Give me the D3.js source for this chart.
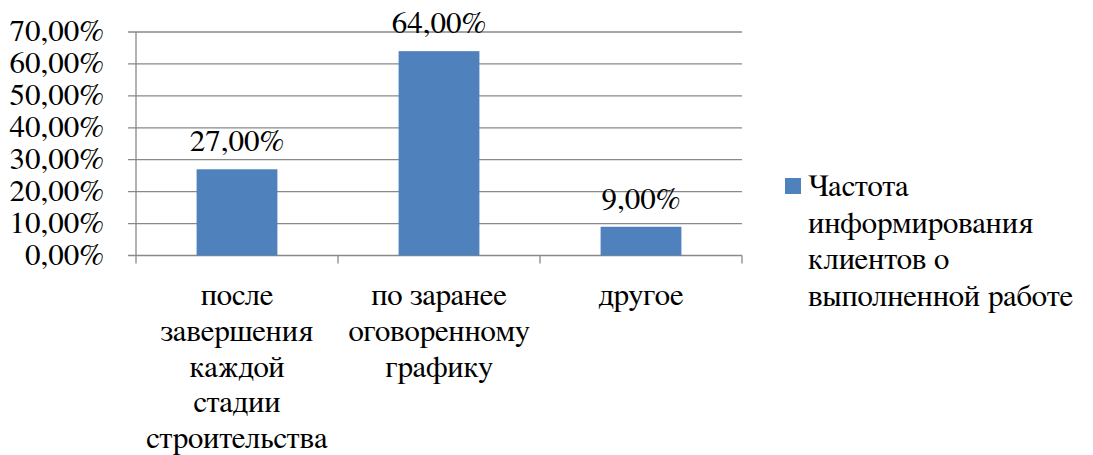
<!DOCTYPE html>
<html>
<head>
<meta charset="utf-8">
<script src="https://cdnjs.cloudflare.com/ajax/libs/d3/7.8.5/d3.min.js"></script>
</head>
<body style="margin:0">
<svg id="chart" width="1093" height="455"></svg>
<script>
// Categories (one label per line) and values in percent
const categories = [
  ["после", "завершения", "каждой", "стадии", "строительства"],
  ["по заранее", "оговоренному", "графику"],
  ["другое"]
];
const values = [27, 64, 9];
const yTicks = [0, 10, 20, 30, 40, 50, 60, 70];
const seriesName = ["Частота", "информирования", "клиентов о", "выполненной работе"];

const barColor = "#4F81BD";
const gridColor = "#898989";
const fontSize = 31;
const fontFamily = "'FreeSerif', 'Liberation Serif', 'Times New Roman', serif";

const svg = d3.select("#chart");
const plot = { left: 136, right: 742, top: 32, bottom: 255.5 };

const keys = categories.map((c, i) => i);
const x = d3.scaleBand().domain(keys).range([plot.left, plot.right])
  .paddingInner(0.6).paddingOuter(0.3);
const xOuter = d3.scaleBand().domain(keys).range([plot.left, plot.right]);
const y = d3.scaleLinear().domain([0, 70]).range([plot.bottom, plot.top]);

const fmt = v => d3.format(".2f")(v).replace(".", ",") + "%";

// Horizontal gridlines with short tick marks to the left of the axis
svg.selectAll("line.grid").data(yTicks).join("line").attr("class", "grid")
  .attr("x1", plot.left - 8).attr("x2", plot.right)
  .attr("y1", d => y(d)).attr("y2", d => y(d))
  .attr("stroke", gridColor).attr("stroke-width", 1.3);

// Vertical value axis
svg.append("line")
  .attr("x1", plot.left).attr("x2", plot.left)
  .attr("y1", y(70)).attr("y2", plot.bottom + 8)
  .attr("stroke", gridColor).attr("stroke-width", 1.3);

// Category separators below the baseline
svg.selectAll("line.sep").data(keys).join("line").attr("class", "sep")
  .attr("x1", d => xOuter(d) + xOuter.bandwidth())
  .attr("x2", d => xOuter(d) + xOuter.bandwidth())
  .attr("y1", plot.bottom).attr("y2", plot.bottom + 8)
  .attr("stroke", gridColor).attr("stroke-width", 1.3);

// Bars
svg.selectAll("rect.bar").data(values).join("rect").attr("class", "bar")
  .attr("x", (d, i) => x(i)).attr("width", x.bandwidth())
  .attr("y", d => y(d)).attr("height", d => plot.bottom - y(d))
  .attr("fill", barColor);

// Y tick labels
svg.selectAll("text.ytick").data(yTicks).join("text").attr("class", "ytick")
  .attr("x", 104).attr("y", d => y(d)).attr("dy", "0.3em")
  .attr("font-size", fontSize)
  .style("font-family", fontFamily)
  .attr("text-anchor", "end")
  .text(fmt);

// Value labels above bars
svg.selectAll("text.value").data(values).join("text").attr("class", "value")
  .attr("x", (d, i) => x(i) + x.bandwidth() / 2)
  .attr("y", d => y(d) - 18)
  .attr("font-size", fontSize)
  .style("font-family", fontFamily)
  .attr("text-anchor", "middle")
  .text(fmt);

// Multi-line category labels, one text element per line
const lineH = 35.8;
const catLines = categories.flatMap((lines, i) => lines.map((l, j) => ({ i, j, l })));
svg.selectAll("text.cat").data(catLines).join("text").attr("class", "cat")
  .attr("x", d => x(d.i) + x.bandwidth() / 2)
  .attr("y", d => 305 + d.j * lineH)
  .attr("font-size", fontSize)
  .style("font-family", fontFamily)
  .attr("text-anchor", "middle")
  .text(d => d.l);

// Legend swatch and text
svg.append("rect")
  .attr("x", 785).attr("y", 178).attr("width", 16).attr("height", 16)
  .attr("fill", barColor);
svg.selectAll("text.legend").data(seriesName).join("text").attr("class", "legend")
  .attr("x", 808).attr("y", (l, j) => 196 + j * 36.7)
  .attr("font-size", fontSize)
  .style("font-family", fontFamily)
  .text(l => l);
</script>
</body>
</html>
